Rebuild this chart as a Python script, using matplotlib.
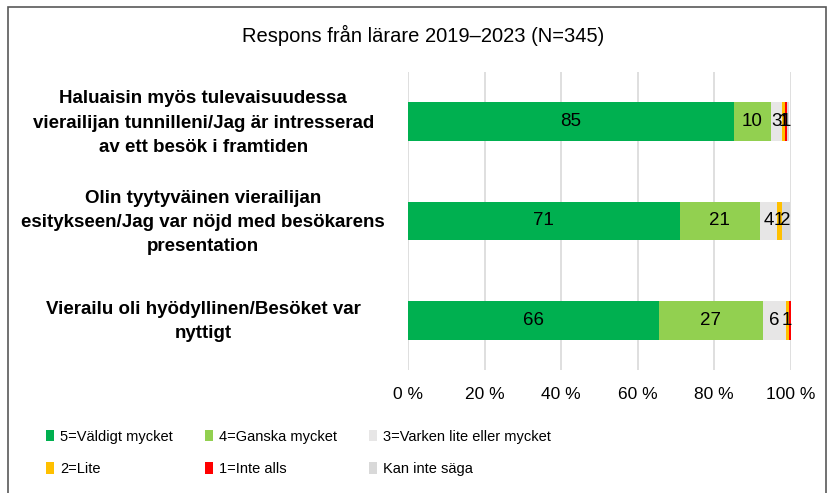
import matplotlib.pyplot as plt
import matplotlib.patches as mpatches
import matplotlib.transforms as mtransforms
import numpy as np

plt.rcParams['font.family'] = ['Liberation Sans', 'DejaVu Sans']

# ---- data ----
questions = [
    'Haluaisin myös tulevaisuudessa\nvierailijan tunnilleni/Jag är intresserad\nav ett besök i framtiden',
    'Olin tyytyväinen vierailijan\nesitykseen/Jag var nöjd med besökarens\npresentation',
    'Vierailu oli hyödyllinen/Besöket var\nnyttigt',
]
series = ['5=Väldigt mycket', '4=Ganska mycket', '3=Varken lite eller mycket',
          '2=Lite', '1=Inte alls', 'Kan inte säga']
v5 = [85.1, 71, 65.6]
v4 = [9.7, 21, 27.2]
v3 = [3.1, 4.4, 5.9]
v2 = [0.6, 1.3, 0.9]
v1 = [0.6, 0, 0.4]
v0 = [0.4, 2.1, 0]
colors = ['#00B050', '#92D050', '#E7E6E6', '#FFC000', '#FF0000', '#D9D9D9']

values = [v5, v4, v3, v2, v1, v0]

fig = plt.figure(figsize=(8.33, 4.93), dpi=100)
ax = fig.add_axes([0.49, 0.2495, 0.459, 0.6045])

y = np.arange(len(questions))
left = np.zeros(len(questions))
handles = []
for vals, col, name in zip(values, colors, series):
    vals = np.array(vals, dtype=float)
    bars = ax.barh(y, vals, left=left, height=0.39, color=col, label=name, zorder=2)
    handles.append(bars)
    for yi, (l, v) in enumerate(zip(left, vals)):
        if v >= 0.5:
            ax.text(l + v / 2, yi, f'{v:.0f}', ha='center', va='center',
                    fontsize=13.5, color='black', zorder=3)
    left += vals

ax.set_xlim(0, 100)
ax.set_ylim(2.5, -0.5)
ax.set_xticks(np.arange(0, 101, 20))
ax.set_xticklabels([f'{t} %' for t in range(0, 101, 20)], fontsize=12.5)
ax.set_yticks([])
ax.tick_params(axis='x', length=0, pad=12)
for s in ax.spines.values():
    s.set_visible(False)
ax.grid(axis='x', color='#D9D9D9', linewidth=1.2, zorder=0)
ax.set_axisbelow(True)

# category labels, centred to the left of the bars
trans = mtransforms.blended_transform_factory(ax.transAxes, ax.transData)
for yi, q in zip(y, questions):
    ax.text(-0.536, yi + 0.015, q, transform=trans, ha='center', va='center',
            fontsize=13.5, fontweight='bold', linespacing=1.55)

fig.text(0.508, 0.928, 'Respons från lärare 2019–2023 (N=345)', ha='center', va='center',
         fontsize=14.5)

# legend, row-major order like the original
order = [0, 3, 1, 4, 2, 5]
fig.legend([handles[i] for i in order], [series[i] for i in order], ncol=3,
           loc='upper left', bbox_to_anchor=(0.04, 0.155), frameon=False,
           fontsize=10.5, handlelength=0.55, handleheight=0.85,
           handletextpad=0.4, columnspacing=2.2, labelspacing=1.25)

# outer frame
fig.add_artist(mpatches.Rectangle((8 / 833, -0.05), 818 / 833, 1.05 - 7 / 493,
                                  transform=fig.transFigure, fill=False,
                                  edgecolor='#595959', linewidth=1.2))

fig.savefig('out.png', dpi=100)
